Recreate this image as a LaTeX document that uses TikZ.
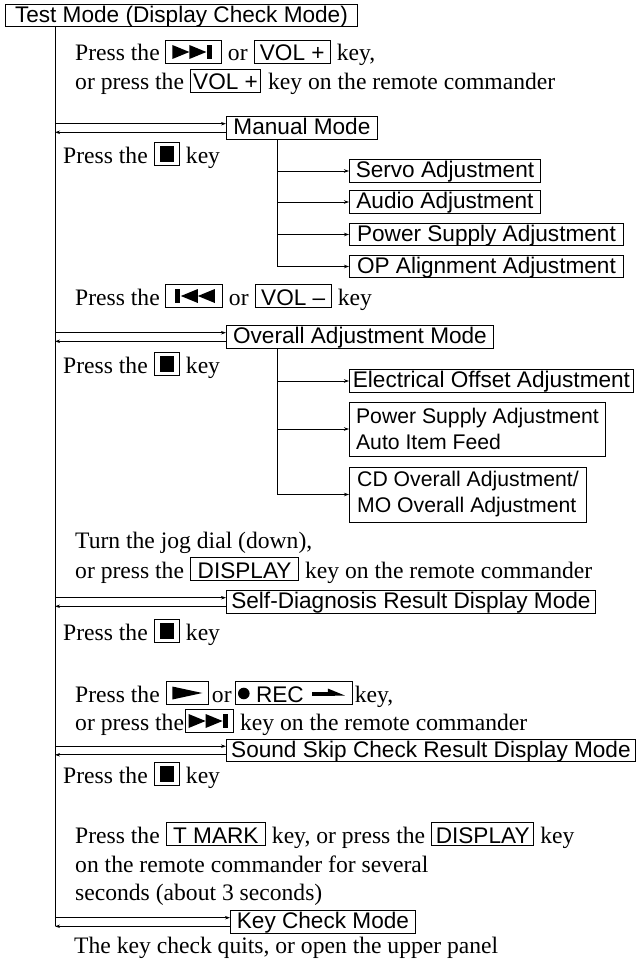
\documentclass[tikz,border=0pt]{standalone}
\usepackage{fontspec}
\setmainfont{Liberation Serif}
\newfontfamily\sansf{Liberation Sans}
\usetikzlibrary{arrows.meta,calc}
\newcommand\mysymnext[1]{%
  \fill ($(#1.center)+(-21,-7)$) -- ++(17,7) -- ++(-17,7) -- cycle;
  \fill ($(#1.center)+(-4,-7)$) -- ++(17,7) -- ++(-17,7) -- cycle;
  \fill ($(#1.center)+(13.5,-7)$) rectangle ++(5,14);}
\newcommand\mysymprev[1]{%
  \fill ($(#1.center)+(21,-7)$) -- ++(-17,7) -- ++(17,7) -- cycle;
  \fill ($(#1.center)+(4,-7)$) -- ++(-17,7) -- ++(17,7) -- cycle;
  \fill ($(#1.center)+(-18.5,-7)$) rectangle ++(5,14);}
\newcommand\mysymstop[1]{%
  \fill ($(#1.center)+(-7,-8)$) rectangle ++(14,16);}
\newcommand\mysymplay[1]{%
  \fill ($(#1.center)+(-15,-6.5)$) -- ++(30,6.5) -- ++(-30,6.5) -- cycle;}
\newcommand\mymodelinks[1]{%
  \draw[arr] ($(#1.west -| trunkx)+(0,-4.3)$) -- ($(#1.west)+(0,-4.3)$);
  \draw[arr] ($(#1.west)+(0,4.3)$) -- ($(#1.west -| trunkx)+(0,4.3)$);}
\newcommand\serifsz{\fontsize{23.6}{28}\selectfont}
\newcommand\sanssz{\sansf\fontsize{22.6}{26}\selectfont}
\begin{document}
\begin{tikzpicture}[x=1pt,y=-1pt,
  txt/.style={inner sep=0pt, anchor=base west, font=\serifsz},
  box/.style={draw=black, line width=0.9pt, font=\sanssz,
    inner xsep=2pt, inner ysep=0.5pt, text height=17.5pt, text depth=4pt},
  mbox/.style={draw=black, line width=0.9pt, font=\sansf\fontsize{21.2}{26}\selectfont,
    inner xsep=3pt, inner ysep=3pt, align=left, anchor=west},
  kb/.style={draw=black, line width=0.8pt, font=\sanssz,
    inner xsep=2pt, inner ysep=1pt, text height=19.5pt, text depth=1.5pt, anchor=base west},
  link/.style={line width=0.8pt, draw=black},
  arr/.style={link, -{Stealth[length=5pt,width=3.5pt]}}
]
\useasboundingbox (0,0) rectangle (639,963);
\coordinate (trunkx) at (55,0);
\coordinate (subx) at (277,0);

% ---------- mode boxes ----------
\node[box, anchor=north west, minimum width=352pt] (test) at (5,4) {Test Mode (Display Check Mode)};
\node[box, anchor=west, minimum width=151pt] (manual) at (226,128) {Manual Mode};
\node[box, anchor=west, minimum width=191pt] (servo) at (349,171) {Servo Adjustment};
\node[box, anchor=west, minimum width=191pt] (audio) at (349,202) {Audio Adjustment};
\node[box, anchor=west, minimum width=274pt] (psa) at (349,234.5) {Power Supply Adjustment};
\node[box, anchor=west, minimum width=274pt] (opa) at (349,266.5) {OP Alignment Adjustment};
\node[box, anchor=west, minimum width=267pt] (overall) at (226,337) {Overall Adjustment Mode};
\node[box, anchor=west, minimum width=284pt] (elec) at (349,381) {Electrical Offset Adjustment};
\node[mbox, minimum width=256pt, minimum height=54pt] (psauto) at (349,429) {Power Supply Adjustment\\Auto Item Feed};
\node[mbox, minimum width=237pt, minimum height=55pt] (cdmo) at (349,494.5) {CD Overall Adjustment/\\MO Overall Adjustment};
\node[box, anchor=west, minimum width=369pt] (selfdiag) at (226,602) {Self-Diagnosis Result Display Mode};
\node[box, anchor=west, minimum width=409pt] (skip) at (226,750.5) {Sound Skip Check Result Display Mode};
\node[box, anchor=west, minimum width=185pt] (keycheck) at (230,922) {Key Check Mode};

% ---------- trunk and links ----------
\draw[link] (test.south -| trunkx) -- ($(keycheck.west -| trunkx)+(0,4.3)$);
\mymodelinks{manual}
\mymodelinks{overall}
\mymodelinks{selfdiag}
\mymodelinks{skip}
\mymodelinks{keycheck}

\draw[link] (manual.south -| subx) -- (opa.west -| subx);
\draw[arr] (servo.west -| subx) -- (servo.west);
\draw[arr] (audio.west -| subx) -- (audio.west);
\draw[arr] (psa.west -| subx) -- (psa.west);
\draw[arr] (opa.west -| subx) -- (opa.west);

\draw[link] (overall.south -| subx) -- (cdmo.west -| subx);
\draw[arr] (elec.west -| subx) -- (elec.west);
\draw[arr] (psauto.west -| subx) -- (psauto.west);
\draw[arr] (cdmo.west -| subx) -- (cdmo.west);

% ---------- text lines ----------
% line 1
\node[txt] (l1a) at (75,61) {Press the};
\node[kb, minimum width=56pt] (k1a) at ([xshift=5pt]l1a.base east) {};
\mysymnext{k1a}
\node[txt] (l1b) at ([xshift=6pt]k1a.base east) {or};
\node[kb, minimum width=76pt] (k1b) at ([xshift=6pt]l1b.base east) {VOL +};
\node[txt] (l1c) at ([xshift=6pt]k1b.base east) {key,};
% line 2
\node[txt] (l2a) at (75,90) {or press the};
\node[kb, minimum width=70pt] (k2a) at ([xshift=6pt]l2a.base east) {VOL +};
\node[txt] (l2b) at ([xshift=7pt]k2a.base east) {key on the remote commander};
% line 3
\node[txt] (l3a) at (63,163) {Press the};
\node[kb, minimum width=25pt] (k3a) at ([xshift=6pt]l3a.base east) {};
\mysymstop{k3a}
\node[txt] (l3b) at ([xshift=6pt]k3a.base east) {key};
% line 4
\node[txt] (l4a) at (75,305) {Press the};
\node[kb, minimum width=57pt] (k4a) at ([xshift=5pt]l4a.base east) {};
\mysymprev{k4a}
\node[txt] (l4b) at ([xshift=6pt]k4a.base east) {or};
\node[kb, minimum width=76pt] (k4b) at ([xshift=6pt]l4b.base east) {VOL –};
\node[txt] (l4c) at ([xshift=6pt]k4b.base east) {key};
% line 5
\node[txt] (l5a) at (63,373) {Press the};
\node[kb, minimum width=25pt] (k5a) at ([xshift=6pt]l5a.base east) {};
\mysymstop{k5a}
\node[txt] (l5b) at ([xshift=6pt]k5a.base east) {key};
% line 6-7
\node[txt] (l6a) at (75,548) {Turn the jog dial (down),};
\node[txt] (l7a) at (75,578) {or press the};
\node[kb, minimum width=108pt] (k7a) at ([xshift=6pt]l7a.base east) {DISPLAY};
\node[txt] (l7b) at ([xshift=6pt]k7a.base east) {key on the remote commander};
% line 8
\node[txt] (l8a) at (63,640) {Press the};
\node[kb, minimum width=25pt] (k8a) at ([xshift=6pt]l8a.base east) {};
\mysymstop{k8a}
\node[txt] (l8b) at ([xshift=6pt]k8a.base east) {key};
% line 9
\node[txt] (l9a) at (75,702) {Press the};
\node[kb, minimum width=42pt] (k9a) at ([xshift=6pt]l9a.base east) {};
\mysymplay{k9a}
\node[txt] (l9b) at ([xshift=3pt]k9a.base east) {or};
\node[kb, minimum width=117pt] (k9b) at ([xshift=3pt]l9b.base east) {};
\node[txt, font=\sanssz] (rec) at ([xshift=21pt]k9b.base west) {REC};
\fill ($(k9b.west)+(9,0.5)$) circle[radius=5.8];
\fill ($(k9b.west)+(77,-1)$) rectangle ($(k9b.west)+(100,2.5)$);
\fill ($(k9b.west)+(93,2.5)$) -- ($(k9b.west)+(110,2.5)$) -- ($(k9b.west)+(93,-4.5)$) -- cycle;
\node[txt] (l9c) at ([xshift=2pt]k9b.base east) {key,};
% line 10
\node[txt] (l10a) at (75,730) {or press the};
\node[kb, minimum width=48pt] (k10a) at ([xshift=1pt]l10a.base east) {};
\mysymnext{k10a}
\node[txt] (l10b) at ([xshift=6pt]k10a.base east) {key on the remote commander};
% line 11
\node[txt] (l11a) at (63,783) {Press the};
\node[kb, minimum width=25pt] (k11a) at ([xshift=6pt]l11a.base east) {};
\mysymstop{k11a}
\node[txt] (l11b) at ([xshift=6pt]k11a.base east) {key};
% line 12-14
\node[txt] (l12a) at (75,843) {Press the};
\node[kb, minimum width=99pt] (k12a) at ([xshift=6pt]l12a.base east) {T MARK};
\node[txt] (l12b) at ([xshift=6pt]k12a.base east) {key, or press the};
\node[kb, minimum width=102pt] (k12b) at ([xshift=6pt]l12b.base east) {DISPLAY};
\node[txt] (l12c) at ([xshift=6pt]k12b.base east) {key};
\node[txt] (l13a) at (75,872) {on the remote commander for several};
\node[txt] (l14a) at (75,900) {seconds (about 3 seconds)};
% line 15
\node[txt] (l15a) at (74,953) {The key check quits, or open the upper panel};
\end{tikzpicture}
\end{document}
